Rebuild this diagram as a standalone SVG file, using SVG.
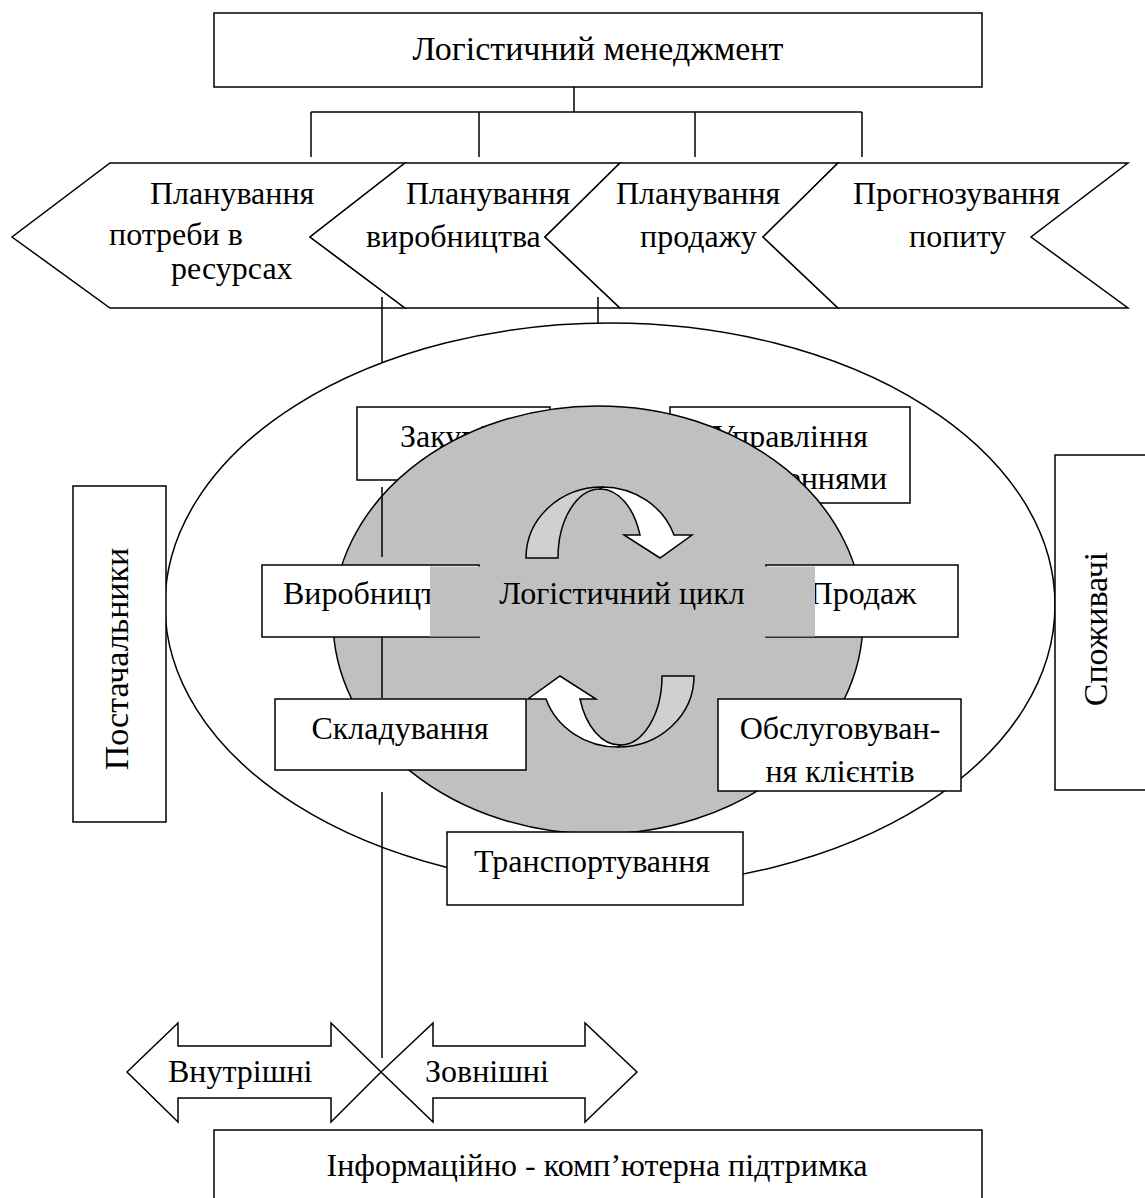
<svg xmlns="http://www.w3.org/2000/svg" width="1145" height="1198" viewBox="0 0 1145 1198">
<style>
.b{fill:#fff;stroke:#000;stroke-width:1.5}
.t{font-family:"Liberation Serif","Times New Roman",serif;font-size:32px;fill:#000}
.big{font-size:34px}
.m{text-anchor:middle}
.e{text-anchor:end}
.l{stroke:#000;stroke-width:1.5;fill:none}
.g{fill:#c0c0c0}
.lg{fill:#d0d0d0;stroke:#000;stroke-width:1.5}
.w{fill:#fff;stroke:#000;stroke-width:1.5}
</style>
<defs>
<g id="curv">
<path class="lg" d="M526,558 A76,71 0 0 1 602,487 L600,489 A42,69 0 0 0 558,558 Z"/>
<path class="w" d="M602,487 A76,71 0 0 1 674,535 L692,535 L660,558 L624,535 L640,535 A42,69 0 0 0 600,489 Z"/>
</g>
</defs>
<rect width="1145" height="1198" fill="#fff"/>

<g id="management">
<rect class="b" x="214" y="13" width="768" height="74"/>
<text class="t big m" x="598" y="60">Логістичний менеджмент</text>
</g>

<g id="chevron-resources">
<path class="b" d="M110,163 L405,163 L310,237 L405,308 L110,308 L12,237 Z"/>
<text class="t" x="150" y="204">Планування</text>
<text class="t" x="109" y="245">потреби в</text>
<text class="t" x="171" y="279">ресурсах</text>
</g>
<g id="chevron-production">
<path class="b" d="M405,163 L620,163 L545,237 L620,308 L405,308 L310,237 Z"/>
<text class="t" x="406" y="204">Планування</text>
<text class="t" x="366" y="247">виробництва</text>
</g>
<g id="chevron-sales">
<path class="b" d="M620,163 L838,163 L763,237 L838,308 L620,308 L545,237 Z"/>
<text class="t" x="616" y="204">Планування</text>
<text class="t" x="640" y="247">продажу</text>
</g>
<g id="chevron-forecast">
<path class="b" d="M838,163 L1128,163 L1031,237 L1128,308 L838,308 L763,237 Z"/>
<text class="t" x="853" y="204">Прогнозування</text>
<text class="t" x="909" y="247">попиту</text>
</g>

<g id="logistics-area">
<ellipse class="b" cx="610" cy="605" rx="445" ry="282"/>
</g>

<g id="purchasing">
<rect class="b" x="357" y="407" width="193" height="73"/>
<text class="t" x="400" y="447">Закупівлі</text>
</g>
<g id="order-management">
<rect class="b" x="670" y="407" width="240" height="96"/>
<text class="t m" x="790" y="447">Управління</text>
<text class="t e" x="887" y="489">замовленнями</text>
</g>

<g id="cycle-core">
<ellipse cx="598" cy="620" rx="265" ry="214" fill="#c0c0c0" stroke="#000" stroke-width="1.5"/>
</g>

<g id="production">
<rect class="b" x="262" y="565" width="217" height="72"/>
<text class="t" x="283" y="604">Виробництво</text>
</g>
<g id="sales">
<rect class="b" x="766" y="565" width="192" height="72"/>
<text class="t m" x="863" y="604">Продаж</text>
</g>

<g id="logistics-cycle">
<rect class="g" x="430" y="566.5" width="385" height="70"/>
<text class="t m" x="622" y="604">Логістичний цикл</text>
</g>

<g id="warehousing">
<rect class="b" x="275" y="699" width="251" height="71"/>
<text class="t m" x="400" y="739">Складування</text>
</g>
<g id="customer-service">
<rect class="b" x="718" y="699" width="243" height="92"/>
<text class="t m" x="840" y="739">Обслуговуван-</text>
<text class="t m" x="840" y="782">ня клієнтів</text>
</g>
<g id="transportation">
<rect class="b" x="447" y="832" width="296" height="73"/>
<text class="t m" x="592" y="872">Транспортування</text>
</g>

<g id="cycle-arrows">
<use href="#curv"/>
<use href="#curv" transform="rotate(180 610 617)"/>
</g>

<g id="suppliers">
<rect class="b" x="73" y="486" width="93" height="336"/>
<text class="t big m" transform="translate(128 659) rotate(-90)">Постачальники</text>
</g>
<g id="consumers">
<rect class="b" x="1055" y="455" width="100" height="335"/>
<text class="t big m" transform="translate(1107 629) rotate(-90)">Споживачі</text>
</g>

<g id="internal">
<path class="b" d="M127,1072 L178,1023 L178,1046 L331,1046 L331,1023 L381,1072 L331,1122 L331,1098 L178,1098 L178,1122 Z"/>
<text class="t" x="168" y="1082">Внутрішні</text>
</g>
<g id="external">
<path class="b" d="M381,1072 L433,1023 L433,1046 L585,1046 L585,1023 L637,1072 L585,1122 L585,1098 L433,1098 L433,1122 Z"/>
<text class="t" x="425" y="1082">Зовнішні</text>
</g>

<g id="info-support">
<rect class="b" x="214" y="1130" width="768" height="90"/>
<text class="t m" x="597" y="1176">Інформаційно - комп’ютерна підтримка</text>
</g>

<g id="connectors">
<path class="l" d="M574,87 V112 M311,112 H862 M311,112 V157 M479,112 V157 M695,112 V157 M862,112 V157"/>
<path class="l" d="M382,297 V362 M598,297 V323"/>
<path class="l" d="M382,487 V557 M382,637 V698 M382,792 V1058"/>
</g>
</svg>
